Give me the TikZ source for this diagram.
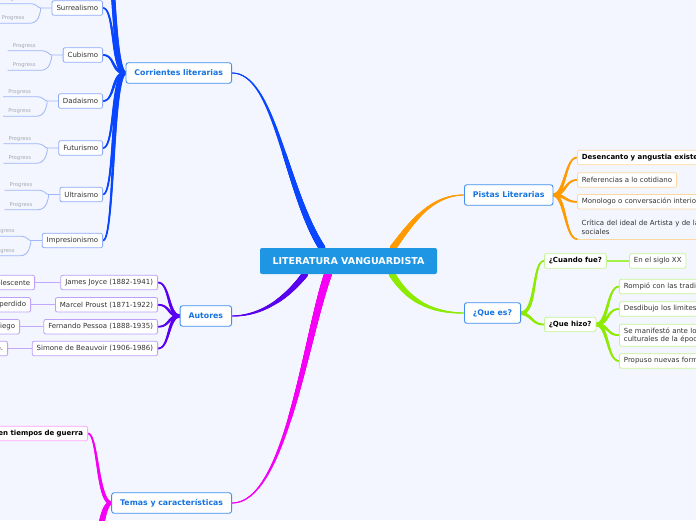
\documentclass[tikz,border=0pt]{standalone}
\usepackage{fontspec}
\setmainfont{DejaVu Sans}
\usetikzlibrary{decorations.markings}
\definecolor{bgc}{HTML}{F3F6FE}
\definecolor{cfill}{HTML}{1E96E3}
\definecolor{tborder}{HTML}{3F8FF0}
\definecolor{ttext}{HTML}{1673E0}
\definecolor{cblue}{HTML}{0A46FF}
\definecolor{bborder}{HTML}{8EABF9}
\definecolor{plinec}{HTML}{A0B6F8}
\definecolor{cpurple}{HTML}{5A00F0}
\definecolor{pborder}{HTML}{BDA0F8}
\definecolor{plight}{HTML}{C2A8FA}
\definecolor{cmag}{HTML}{F500F5}
\definecolor{mborder}{HTML}{FFA6FF}
\definecolor{corange}{HTML}{FF9A00}
\definecolor{oborder}{HTML}{FFD7A0}
\definecolor{cgreen}{HTML}{8CEB00}
\definecolor{gborder}{HTML}{C5F29A}
\definecolor{glink}{HTML}{A6F04A}
\definecolor{ctext}{HTML}{333333}
\definecolor{progtext}{HTML}{A4A8B4}
\pgfdeclarelayer{back}
\pgfdeclarelayer{links}
\pgfsetlayers{back,links,main}
\tikzset{
  taper/.style n args={3}{draw=#1, line width=0.9pt,
    postaction={decorate, decoration={markings,
      mark=between positions 0 and 1 step 0.5pt with {%
        \pgfmathsetmacro\tapr{#2+(#3-#2)*\pgfkeysvalueof{/pgf/decoration/mark info/distance from start}/\pgfdecoratedpathlength}%
        \fill[#1] (0,0) circle[radius=\tapr pt];}}}},
  central/.style={fill=cfill, text=white, font=\fontsize{9.5}{11}\selectfont\bfseries,
    minimum width=177pt, minimum height=26pt, rounded corners=2pt, inner sep=0pt},
  topic/.style={draw=tborder, line width=0.9pt, fill=white, text=ttext,
    font=\fontsize{7.8}{9}\selectfont\bfseries, rounded corners=2.5pt,
    minimum height=20.5pt, inner xsep=8.5pt, inner ysep=0pt},
  leaf/.style={draw=#1, line width=0.8pt, fill=white, text=ctext,
    font=\fontsize{7}{8.5}\selectfont, rounded corners=2pt,
    minimum height=14.5pt, inner xsep=4.5pt, inner ysep=1pt},
  bleaf/.style={leaf=#1, font=\fontsize{7}{8.5}\selectfont\bfseries, text=black},
  prog/.style={text=progtext, font=\fontsize{5.3}{6}\selectfont, inner xsep=5pt, inner ysep=2.2pt},
  pl/.style={draw=plinec, line width=0.8pt},
}
\newcommand\progs[1]{%
  \node[prog, anchor=south west] (#1a) at ([shift={(-55,-4.3)}]#1.west) {Progress};
  \node[prog, anchor=south west] (#1b) at ([shift={(-55,15.3)}]#1.west) {Progress};
  \coordinate (#1j) at ([xshift=-11pt]#1.west);}
\newcommand\progl[1]{%
  \draw[pl] (#1a.south west) -- (#1a.south east) .. controls +(8,0) and +(-3,0) .. (#1j) -- (#1.west);
  \draw[pl] (#1b.south west) -- (#1b.south east) .. controls +(9,0) and +(0,5) .. (#1j);}
\begin{document}
\begin{tikzpicture}[x=1pt,y=-1pt]
\useasboundingbox (0,0) rectangle (696,520);
\begin{pgfonlayer}{back}\fill[bgc] (0,0) rectangle (696,520);\end{pgfonlayer}
\clip (0,0) rectangle (696,520);

% central and main topics
\node[central] (C) at (348.5,261) {LITERATURA VANGUARDISTA};
\node[topic, anchor=east] (corr) at (232,73) {Corrientes literarias};
\node[topic, anchor=east] (aut) at (232,316) {Autores};
\node[topic, anchor=east] (tem) at (232,503) {Temas y características};
\node[topic, anchor=west] (pis) at (464,195) {Pistas Literarias};
\node[topic, anchor=west] (que) at (464,313) {¿Que es?};

% Corrientes literarias
\node[leaf=bborder, anchor=east] (sur) at (103,8) {Surrealismo};
\node[leaf=bborder, anchor=east] (cub) at (103,55) {Cubismo};
\node[leaf=bborder, anchor=east] (dad) at (103,101) {Dadaismo};
\node[leaf=bborder, anchor=east] (fut) at (103,148) {Futurismo};
\node[leaf=bborder, anchor=east] (ult) at (103,194.5) {Ultraismo};
\node[leaf=bborder, anchor=east] (imp) at (103,240.5) {Impresionismo};
\progs{sur}\progs{cub}\progs{dad}\progs{fut}\progs{ult}\progs{imp}
\coordinate (corrup1) at (103,-45);
\coordinate (corrup2) at (103,-95);

% Autores
\node[leaf=pborder, anchor=east] (joy) at (158,282.5) {James Joyce (1882-1941)};
\node[leaf=pborder, anchor=east] (pro) at (158,304.8) {Marcel Proust (1871-1922)};
\node[leaf=pborder, anchor=east] (pes) at (158,326.7) {Fernando Pessoa (1888-1935)};
\node[leaf=pborder, anchor=east] (bea) at (158,348.5) {Simone de Beauvoir (1906-1986)};
\node[leaf=pborder, anchor=east, text width=70pt, align=right] (joyg) at (35,282.5) {olescente};
\node[leaf=pborder, anchor=east, text width=70pt, align=right] (prog) at (31,304.8) {perdido};
\node[leaf=pborder, anchor=east, text width=70pt, align=right] (pesg) at (20,326.7) {iego};
\node[leaf=pborder, anchor=east, text width=70pt, align=right] (beag) at (8,348.5) {o.};

% Temas
\node[bleaf=mborder, anchor=east, text width=110pt, align=right] (gue) at (88,433.5) {en tiempos de guerra};
\coordinate (temd1) at (88,545);
\coordinate (temd2) at (88,590);

% Pistas Literarias
\node[bleaf=oborder, anchor=west, text width=130pt, align=left] (des) at (577,157.5) {Desencanto y angustia existe};
\node[leaf=oborder, anchor=west] (ref) at (577,180) {Referencias a lo cotidiano};
\node[leaf=oborder, anchor=west, text width=130pt, align=left] (mon) at (577,201.8) {Monologo o conversación interior};
\node[anchor=south west, text=ctext, font=\fontsize{7}{9}\selectfont, text width=130pt, align=left,
      inner xsep=4.5pt, inner ysep=4pt] (cri) at (577,239) {Crítica del ideal de Artista y de la\\sociales};

% Que es
\node[bleaf=gborder, anchor=west] (cua) at (544,261) {¿Cuando fue?};
\node[bleaf=gborder, anchor=west] (hiz) at (544,324.5) {¿Que hizo?};
\node[leaf=gborder, anchor=west] (sig) at (629,261) {En el siglo XX};
\node[leaf=gborder, anchor=west, text width=100pt, align=left] (rom) at (619,286.5) {Rompió con las tradi};
\node[leaf=gborder, anchor=west, text width=100pt, align=left] (desd) at (619,309) {Desdibujo los limites};
\node[leaf=gborder, anchor=west, text width=100pt, align=left, minimum height=22pt] (man) at (619,335.2) {Se manifestó ante lo\\culturales de la époc};
\node[leaf=gborder, anchor=west, text width=100pt, align=left] (prp) at (619,361) {Propuso nuevas form};

\begin{pgfonlayer}{links}
\clip (0,0) rectangle (696,520);
% from central
\draw[taper={cblue}{3.5}{0.45}] ([xshift=-26.5pt]C.north) .. controls +(-37,-58) and +(43,0) .. (corr.east);
\draw[taper={cpurple}{3.2}{0.45}] ([xshift=-43.5pt]C.south) .. controls +(-20,26) and +(28,0) .. (aut.east);
\draw[taper={cmag}{4}{0.45}] ([xshift=-20.5pt]C.south) .. controls +(-23,66) and +(53,0) .. (tem.east);
\draw[taper={corange}{3.3}{0.45}] ([xshift=44.5pt]C.north) .. controls +(17,-23) and +(-34,0) .. (pis.west);
\draw[taper={cgreen}{3.3}{0.45}] ([xshift=43.5pt]C.south) .. controls +(13,21) and +(-39,0) .. (que.west);
% Corrientes
\foreach \n in {sur,cub,dad,fut,ult,imp,corrup1,corrup2}
  \draw[taper={cblue}{1.9}{0.85}] (corr.west) .. controls +(-14,0) and +(12,0) .. (\n.east);
\progl{sur}\progl{cub}\progl{dad}\progl{fut}\progl{ult}\progl{imp}
% Autores
\foreach \n in {joy,pro,pes,bea}
  \draw[taper={cpurple}{1.9}{0.85}] (aut.west) .. controls +(-12,0) and +(12,0) .. (\n.east);
\draw[plight, line width=1pt] (joyg.east) -- (joy.west);
\draw[plight, line width=1pt] (prog.east) -- (pro.west);
\draw[plight, line width=1pt] (pesg.east) -- (pes.west);
\draw[plight, line width=1pt] (beag.east) -- (bea.west);
% Temas
\draw[taper={cmag}{2}{0.9}] (tem.west) .. controls +(-14,0) and +(10,0) .. (gue.east);
\foreach \n in {temd1,temd2}
  \draw[taper={cmag}{2}{0.9}] (tem.west) .. controls +(-12,0) and +(12,0) .. (\n);
% Pistas
\foreach \n in {des,ref,mon}
  \draw[taper={corange}{1.9}{0.85}] (pis.east) .. controls +(12,0) and +(-12,0) .. (\n.west);
\draw[taper={corange}{1.9}{0.85}] (pis.east) .. controls +(12,0) and +(-12,0) .. (cri.south west);
\draw[oborder, line width=0.8pt] (cri.south west) -- (cri.south east);
% Que es
\draw[taper={cgreen}{1.9}{0.85}] (que.east) .. controls +(16,0) and +(-12,0) .. (cua.west);
\draw[taper={cgreen}{1.9}{0.85}] (que.east) .. controls +(11,2) and +(-12,0) .. (hiz.west);
\draw[glink, line width=1.2pt] (cua.east) -- (sig.west);
\foreach \n in {rom,desd,man,prp}
  \draw[taper={cgreen}{1.9}{0.85}] (hiz.east) .. controls +(12,0) and +(-12,0) .. (\n.west);
\end{pgfonlayer}
\end{tikzpicture}
\end{document}
